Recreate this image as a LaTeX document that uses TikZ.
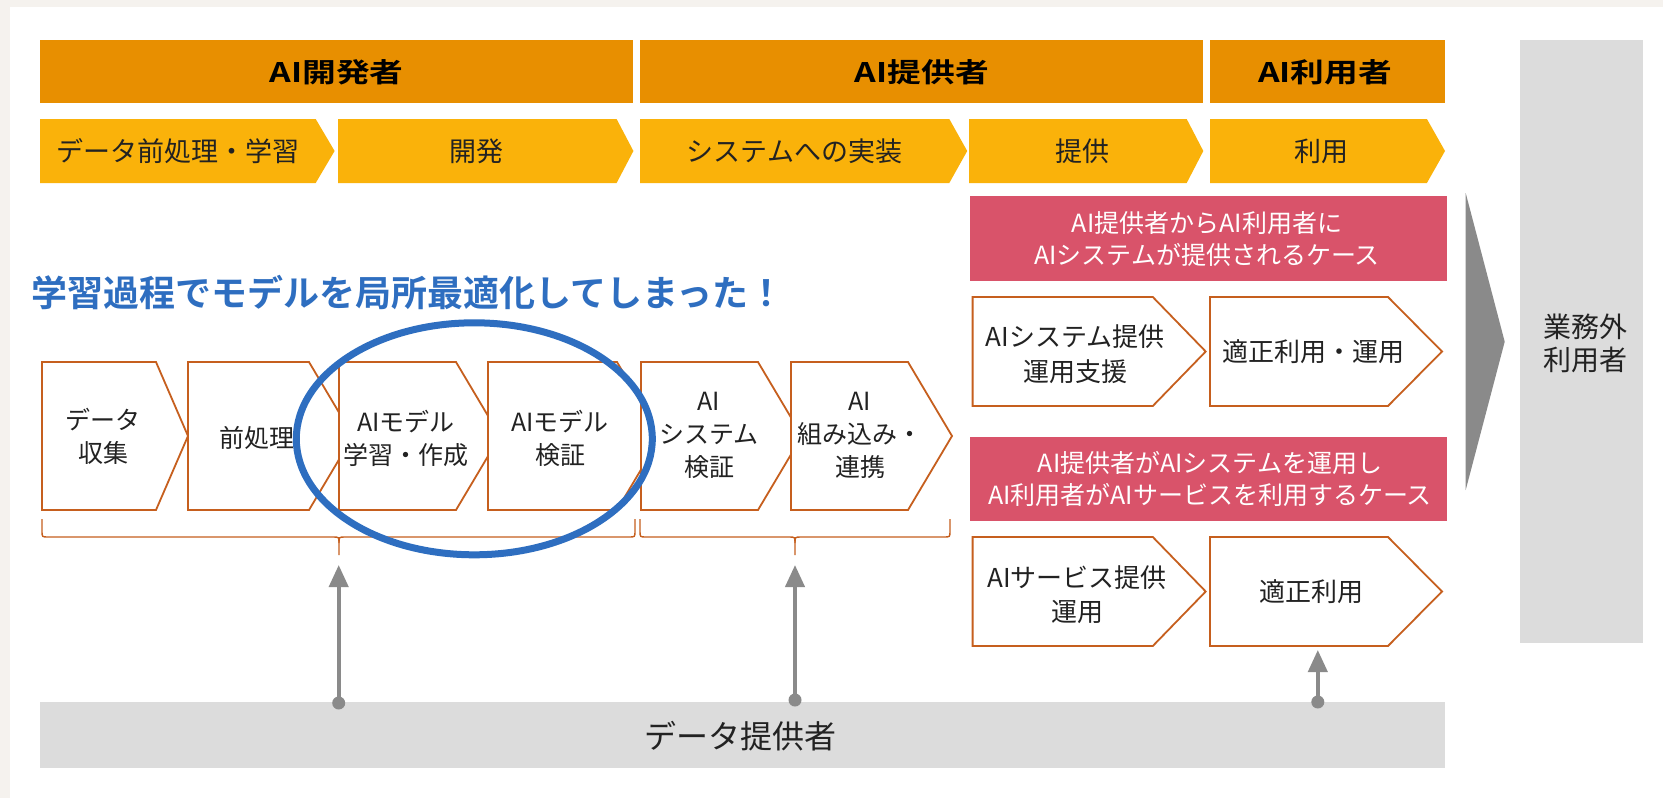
\documentclass[tikz,border=0pt]{standalone}
\usepackage{fontspec}
\usepackage{graphicx}
\setmainfont{Noto Sans CJK JP}[BoldFont={Noto Sans CJK JP Bold}]
\usetikzlibrary{arrows.meta}
\definecolor{bgbeige}{HTML}{F5F2EE}
\definecolor{hdrorange}{HTML}{E88F00}
\definecolor{phaseyellow}{HTML}{FAB20A}
\definecolor{casepink}{HTML}{D9536A}
\definecolor{boxline}{HTML}{C65F1E}
\definecolor{annblue}{HTML}{2E6EC0}
\definecolor{panelgray}{HTML}{DCDCDC}
\definecolor{arrowgray}{HTML}{8A8A8A}
\definecolor{txtdark}{HTML}{222222}
\begin{document}
\begin{tikzpicture}[x=1pt,y=-1pt,
  hdrbar/.style={fill=hdrorange},
  hdrtext/.style={font=\bfseries\fontsize{27}{32}\selectfont, text=black, inner sep=0pt},
  phasebar/.style={fill=phaseyellow},
  phasetext/.style={font=\fontsize{27}{32}\selectfont, text=txtdark, inner sep=0pt},
  procbox/.style={draw=boxline, fill=white, line width=1.8pt, line join=miter},
  proctext/.style={font=\fontsize{25}{33}\selectfont, align=center, text=txtdark, inner sep=0pt},
  casebox/.style={fill=casepink},
  casetext/.style={font=\fontsize{25}{32}\selectfont, align=center, text=white, inner sep=0pt},
  bracelines/.style={draw=boxline, line width=1.4pt},
  uparrow/.style={draw=arrowgray, line width=4pt, -{Triangle[length=22pt,width=19pt]}},
  dotmark/.style={fill=arrowgray},
  graypanel/.style={fill=panelgray}
]
\useasboundingbox (0,0) rectangle (1663,798);
% background
\fill[bgbeige] (0,0) rectangle (1663,798);
\fill[white] (10,7) rectangle (1663,798);

% header bars
\fill[hdrbar] (40,40) rectangle (633.4,103);
\fill[hdrbar] (640,40) rectangle (1203.3,103);
\fill[hdrbar] (1210,40) rectangle (1445,103);
\node[hdrtext] (hdev) at (336.5,72) {\scalebox{1.25}[1]{AI開発者}};
\node[hdrtext] (hprov) at (922,72) {\scalebox{1.25}[1]{AI提供者}};
\node[hdrtext] (huse) at (1325,72) {\scalebox{1.25}[1]{AI利用者}};

% phase chevrons
\foreach \xa/\xb/\xc in {40/315.7/334.6, 338/616.6/633.4, 640/949.3/967.2, 969.2/1186.7/1203.3, 1210/1426.9/1445}{
  \fill[phasebar] (\xa,119) -- (\xb,119) -- (\xc,151) -- (\xb,183) -- (\xa,183) -- cycle;
}
\node[phasetext] (p1) at (178,151) {データ前処理・学習};
\node[phasetext] (p2) at (476,151) {開発};
\node[phasetext] (p3) at (794.5,151) {システムへの実装};
\node[phasetext] (p4) at (1082,151) {提供};
\node[phasetext] (p5) at (1321,151) {利用};

% right panel
\fill[graypanel] (1519.5,40) rectangle (1643,643);
\node[font=\fontsize{28}{33}\selectfont, align=center, text=txtdark, inner sep=0pt] (outside) at (1585,343) {業務外\\利用者};
\fill[arrowgray] (1465.7,193) -- (1504.7,341.7) -- (1465.7,490) -- cycle;

% case boxes
\fill[casebox] (970,196) rectangle (1446.5,281);
\node[casetext] (case1) at (1207,239) {AI提供者からAI利用者に\\AIシステムが提供されるケース};
\fill[casebox] (970,437) rectangle (1446.5,521);
\node[casetext] (case2) at (1210,479) {AI提供者がAIシステムを運用し\\AI利用者がAIサービスを利用するケース};

% case chevrons
\filldraw[procbox] (972.6,297) -- (1152.8,297) -- (1205.7,351.5) -- (1152.8,406) -- (972.6,406) -- cycle;
\filldraw[procbox] (1210,297) -- (1388,297) -- (1442,351.5) -- (1388,406) -- (1210,406) -- cycle;
\filldraw[procbox] (972.6,537) -- (1152.8,537) -- (1205.7,591.5) -- (1152.8,646) -- (972.6,646) -- cycle;
\filldraw[procbox] (1210,537) -- (1388,537) -- (1442,591.5) -- (1388,646) -- (1210,646) -- cycle;
\node[proctext, font=\fontsize{26}{35}\selectfont] (ca) at (1075,354) {AIシステム提供\\運用支援};
\node[proctext, font=\fontsize{26}{35}\selectfont] (cb) at (1313,352) {適正利用・運用};
\node[proctext, font=\fontsize{26}{34}\selectfont] (cc) at (1077,595) {AIサービス提供\\運用};
\node[proctext, font=\fontsize{26}{34}\selectfont] (cd) at (1311.5,592) {適正利用};

% bottom bar
\fill[graypanel] (40,702) rectangle (1445,768);
\node[font=\fontsize{32}{36}\selectfont, text=txtdark, inner sep=0pt] (dataprov) at (740.5,736.5) {データ提供者};

% process boxes
\foreach \xa/\xb/\xc in {42/156/188, 188/309/353, 339/456/500, 488/617/661, 641/758/802, 791/908/952}{
  \filldraw[procbox] (\xa,362) -- (\xb,362) -- (\xc,436) -- (\xb,510) -- (\xa,510) -- cycle;
}
\node[proctext] (b1) at (103,436.5) {データ\\収集};
\node[proctext] (b2) at (257,438) {前処理};
\node[proctext] (b3) at (406,438) {AIモデル\\学習・作成};
\node[proctext] (b4) at (560,438) {AIモデル\\検証};
\node[proctext] (b5) at (709,435) {AI\\システム\\検証};
\node[proctext] (b6) at (860,435) {AI\\組み込み・\\連携};

% braces
\foreach \xa/\xm/\xb in {42/339/635, 640/795/950}{
  \draw[bracelines] (\xa,519) -- (\xa,531) .. controls (\xa,537) .. (\xa+6,537) -- (\xm-6,537) .. controls (\xm,537) .. (\xm,543) -- (\xm,555);
  \draw[bracelines] (\xm,543) .. controls (\xm,537) .. (\xm+6,537) -- (\xb-6,537) .. controls (\xb,537) .. (\xb,531) -- (\xb,519);
}

% annotation
\draw[annblue, line width=7pt] (474.3,438.8) ellipse [x radius=178pt, y radius=116pt];
\node[font=\bfseries\fontsize{36}{40}\selectfont, text=annblue, anchor=west, inner sep=0pt] (note) at (31,293) {学習過程でモデルを局所最適化してしまった！};

% arrows from data provider
\coordinate (src1) at (338.7,703);
\coordinate (dst1) at (338.7,565);
\coordinate (src2) at (795,700);
\coordinate (dst2) at (795,565);
\coordinate (src3) at (1317.8,702);
\coordinate (dst3) at (1317.8,650);
\draw[uparrow] (src1) -- (dst1);
\draw[uparrow] (src2) -- (dst2);
\draw[uparrow] (src3) -- (dst3);
\fill[dotmark] (src1) circle (6.5pt);
\fill[dotmark] (src2) circle (6.5pt);
\fill[dotmark] (src3) circle (6.5pt);
\end{tikzpicture}
\end{document}
